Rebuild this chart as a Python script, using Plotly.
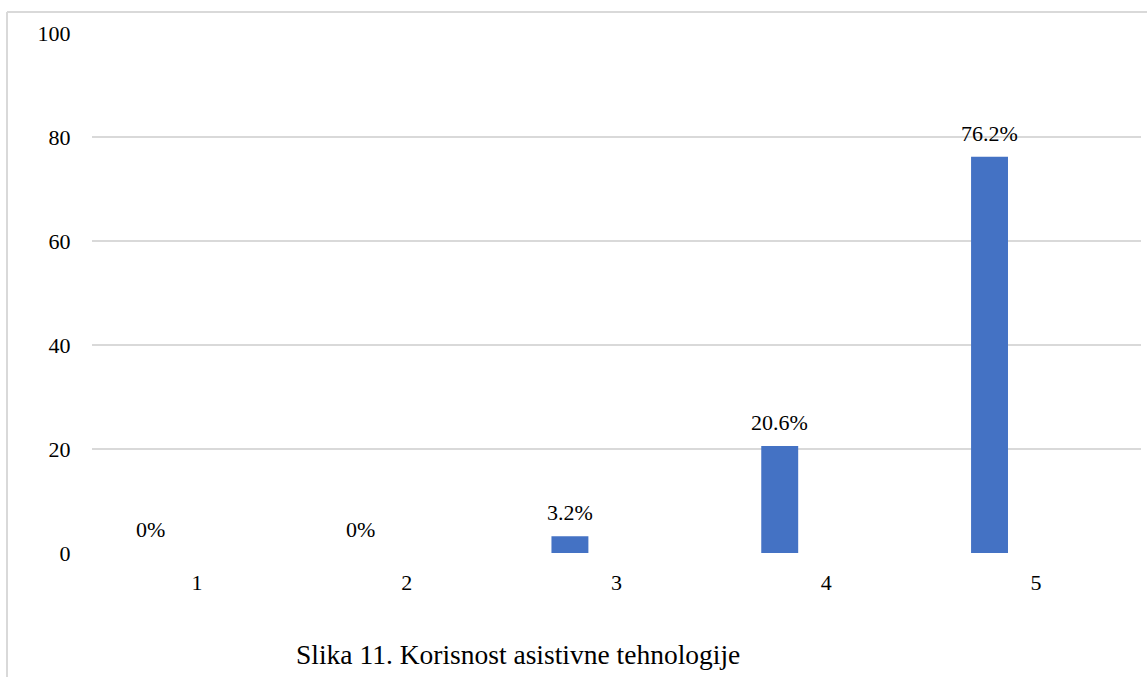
import plotly.graph_objects as go

categories = [1, 2, 3, 4, 5]
values = [0, 0, 3.2, 20.6, 76.2]
labels = ["0%", "0%", "3.2%", "20.6%", "76.2%"]
y_ticks = [0, 20, 40, 60, 80, 100]
title_text = "Slika 11. Korisnost asistivne tehnologije"

W, H = 1147, 677
L, R, T, B = 92, 6, 33, 124
pw, ph = W - L - R, H - T - B

FONT = "Liberation Serif, Times New Roman, serif"
BAR_W = 0.176
BAR_OFF = -0.31

fig = go.Figure()
fig.add_trace(go.Bar(
    x=categories, y=values, width=BAR_W, offset=BAR_OFF,
    marker=dict(color="#4472C4", line=dict(width=0)),
    hoverinfo="skip",
))

for c, v, t in zip(categories, values, labels):
    fig.add_annotation(x=c + BAR_OFF + BAR_W / 2, y=v, text=t, showarrow=False,
                       xref="x", yref="y", yanchor="bottom", yshift=9,
                       font=dict(family=FONT, size=22, color="#000000"))

fig.add_annotation(x=(518 - L) / pw, y=(T + ph - 654) / ph, xref="paper", yref="paper",
                   text=title_text, showarrow=False, xanchor="center", yanchor="middle",
                   font=dict(family=FONT, size=27.5, color="#000000"))

bx = (7 - L) / pw
by = 1 + (T - 12) / ph
fig.add_shape(type="line", xref="paper", yref="paper", x0=bx, y0=by, x1=1.2, y1=by,
              line=dict(color="#d9d9d9", width=2))
fig.add_shape(type="line", xref="paper", yref="paper", x0=bx, y0=by, x1=bx, y1=-0.5,
              line=dict(color="#d9d9d9", width=2))

fig.update_layout(
    width=W, height=H,
    margin=dict(l=L, r=R, t=T, b=B, pad=0),
    paper_bgcolor="white", plot_bgcolor="white",
    showlegend=False,
    font=dict(family=FONT, size=22, color="#000000"),
    xaxis=dict(range=[0.5, 5.5], tickvals=categories, ticktext=[str(c) for c in categories],
               showgrid=False, zeroline=False, showline=False,
               ticks="outside", ticklen=10, tickcolor="rgba(0,0,0,0)",
               tickfont=dict(family=FONT, size=22, color="#000000"), fixedrange=True),
    yaxis=dict(range=[0, 100], tickvals=y_ticks, showgrid=True, gridcolor="#d9d9d9",
               gridwidth=1.5, zeroline=False, showline=False,
               ticks="outside", ticklen=16, tickcolor="rgba(0,0,0,0)",
               tickfont=dict(family=FONT, size=22, color="#000000"), fixedrange=True),
)

fig.write_html("out.html", config={"displayModeBar": False},
               post_script="document.body.style.margin='0';document.body.style.overflow='hidden';")
